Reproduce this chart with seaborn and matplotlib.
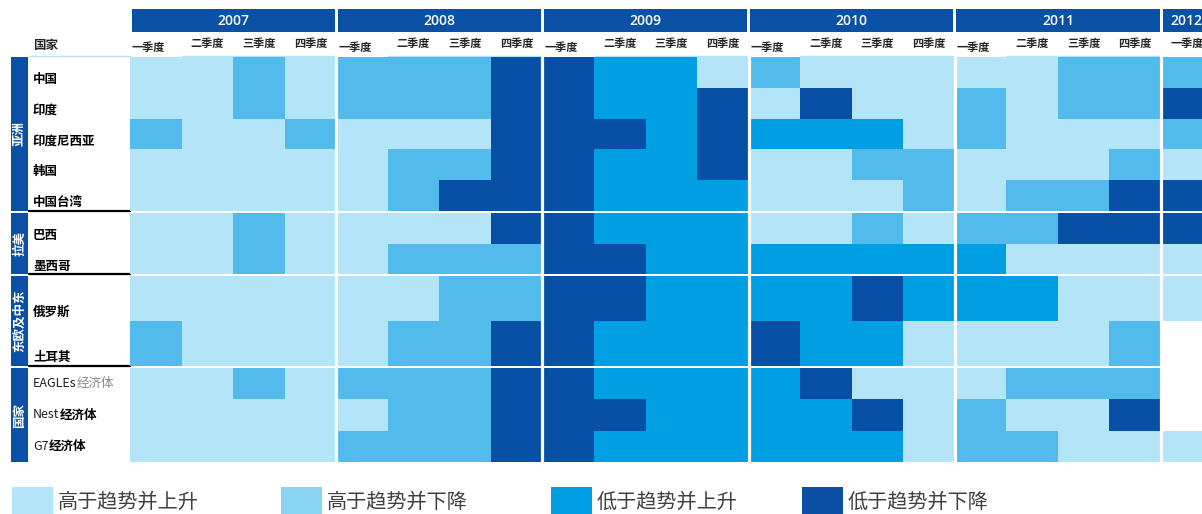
import numpy as np
import pandas as pd
import seaborn as sns
import matplotlib.pyplot as plt
from matplotlib.colors import ListedColormap
from matplotlib.patches import Rectangle

# status codes: 0 高于趋势并上升, 1 高于趋势并下降, 2 低于趋势并上升, 3 低于趋势并下降
years = ["2007", "2008", "2009", "2010", "2011", "2012"]
quarters = ["一季度", "二季度", "三季度", "四季度"]
groups = ["亚洲", "拉美", "东欧及中东", "国家"]
group_sizes = [5, 2, 2, 3]
countries = ["中国", "印度", "印度尼西亚", "韩国", "中国台湾", "巴西", "墨西哥",
             "俄罗斯", "土耳其", "EAGLEs经济体", "Nest经济体", "G7经济体"]
legend_labels = ["高于趋势并上升", "高于趋势并下降", "低于趋势并上升", "低于趋势并下降"]

nan = np.nan
#          2007       2008       2009       2010       2011       2012
china   = [0, 0, 1, 0, 1, 1, 1, 3, 3, 2, 2, 0, 1, 0, 0, 0, 0, 0, 1, 1, 1]
india   = [0, 0, 1, 0, 1, 1, 1, 3, 3, 2, 2, 3, 0, 3, 0, 0, 1, 0, 1, 1, 3]
indones = [1, 0, 0, 1, 0, 0, 0, 3, 3, 3, 2, 3, 2, 2, 2, 0, 1, 0, 0, 0, 1]
korea   = [0, 0, 0, 0, 0, 1, 1, 3, 3, 2, 2, 3, 0, 0, 1, 1, 0, 0, 0, 1, 0]
taiwan  = [0, 0, 0, 0, 0, 1, 3, 3, 3, 2, 2, 2, 0, 0, 0, 1, 0, 1, 1, 3, 3]
brazil  = [0, 0, 1, 0, 0, 0, 0, 3, 3, 2, 2, 2, 0, 0, 1, 0, 1, 1, 3, 3, 3]
mexico  = [0, 0, 1, 0, 0, 1, 1, 1, 3, 3, 2, 2, 2, 2, 2, 2, 2, 0, 0, 0, 0]
russia  = [0, 0, 0, 0, 0, 0, 1, 1, 3, 3, 2, 2, 2, 2, 3, 2, 2, 2, 0, 0, 0]
turkey  = [1, 0, 0, 0, 0, 1, 1, 3, 3, 2, 2, 2, 3, 2, 2, 0, 0, 0, 0, 1, nan]
eagles  = [0, 0, 1, 0, 1, 1, 1, 3, 3, 2, 2, 2, 2, 3, 0, 0, 0, 1, 1, 1, nan]
nest    = [0, 0, 0, 0, 0, 1, 1, 3, 3, 3, 2, 2, 2, 2, 3, 0, 1, 0, 0, 3, nan]
g7      = [0, 0, 0, 0, 1, 1, 1, 3, 3, 2, 2, 2, 2, 2, 2, 0, 1, 1, 0, 0, 0]

status = [china, india, indones, korea, taiwan, brazil, mexico,
          russia, turkey, eagles, nest, g7]
col_labels = [y + q for y in years for q in quarters][:len(china)]
df = pd.DataFrame(status, index=countries, columns=col_labels, dtype=float)

cell_colors = ["#B3E4F8", "#52BBEB", "#009FE3", "#0850A5"]
legend_colors = ["#B3E4F8", "#8AD3F2", "#009FE3", "#0A4FA3"]
dark_blue = "#0A50A5"
cmap = ListedColormap(cell_colors)

sns.set_style("white")
plt.rcParams["font.family"] = ["Noto Sans CJK SC", "DejaVu Sans"]

W, H = 1202, 514
fig = plt.figure(figsize=(W / 100, H / 100), dpi=100)
overlay = fig.add_axes([0, 0, 1, 1])
overlay.set_xlim(0, W)
overlay.set_ylim(H, 0)
overlay.axis("off")


def px_axes(x0, y0, x1, y1):
    return fig.add_axes([x0 / W, 1 - y1 / H, (x1 - x0) / W, (y1 - y0) / H])


x_left = 130
col_w = 51.55
n_cols = df.shape[1]
x_right = x_left + n_cols * col_w


def col_x(c):
    return x_left + c * col_w


group_bounds = [(57, 211), (213, 274), (276, 366), (368, 462)]
label_frac = [0.72, 0.74, 0.8, 0.5]

row = 0
for g, (gname, size) in enumerate(zip(groups, group_sizes)):
    top, bot = group_bounds[g]
    ax = px_axes(x_left, top, x_right, bot)
    sns.heatmap(df.iloc[row:row + size], ax=ax, cmap=cmap, vmin=-0.5, vmax=3.5,
                cbar=False, xticklabels=False, yticklabels=False)
    for k in range(1, len(years)):
        ax.axvline(4 * k, color="white", lw=2.3)
    ax.set_xlabel("")
    ax.set_ylabel("")

    # group bar on the left
    overlay.add_patch(Rectangle((11, top), 17, bot - top, color=dark_blue, lw=0))
    overlay.text(19.5, (top + bot) / 2, gname, rotation=90, color="white",
                 fontsize=9, fontweight="bold", ha="center", va="center")
    if g < len(groups) - 1:
        overlay.plot([29, 130], [bot + 0.3, bot + 0.3], color="black", lw=1.6)

    row_h = (bot - top) / size
    for i in range(size):
        name = countries[row + i]
        yc = top + (i + label_frac[g]) * row_h
        prefix = ""
        for ch in name:
            if ord(ch) < 128:
                prefix += ch
            else:
                break
        if prefix:
            rest = name[len(prefix):]
            t = overlay.text(33, yc, prefix, fontsize=9, color="#222222",
                             ha="left", va="center")
            if prefix == "EAGLEs":
                overlay.annotate(rest, xy=(1, 0.5), xycoords=t, fontsize=9,
                                 color="#888888", ha="left", va="center")
            else:
                overlay.annotate(rest, xy=(1, 0.5), xycoords=t, fontsize=9,
                                 fontweight="heavy", color="black",
                                 ha="left", va="center")
        else:
            overlay.text(33, yc, name, fontsize=9, fontweight="heavy",
                         color="black", ha="left", va="center")
    row += size

# header: year bars and quarter labels
overlay.text(33, 45, "国家", fontsize=9, fontweight="heavy", ha="left", va="center")
overlay.plot([29, 130], [56, 56], color="#B3E4F8", lw=1)
for k, yr in enumerate(years):
    x0 = col_x(4 * k) + 1.5
    x1 = col_x(min(4 * k + 4, n_cols)) - 1.5
    overlay.add_patch(Rectangle((x0, 9), x1 - x0, 23, color=dark_blue, lw=0))
    overlay.text((x0 + x1) / 2, 21, yr, color="white", fontsize=10,
                 fontweight="semibold", family=["Open Sans", "DejaVu Sans"],
                 ha="center", va="center")
    if 4 * k + 1 < n_cols:
        overlay.plot([col_x(4 * k + 1), col_x(4 * k + 4) - 2], [56, 56],
                     color="#B3E4F8", lw=1)

for c in range(n_cols):
    q = quarters[c % 4]
    if c % 4 == 0 and c < n_cols - 1:
        overlay.text(col_x(c) + 2, 47, q, fontsize=8, fontweight="heavy",
                     ha="left", va="center")
    else:
        overlay.text(col_x(c) + col_w / 2, 44, q, fontsize=8, fontweight="heavy",
                     ha="center", va="center")

# legend
legend_x = [12, 281, 551, 802]
for lx, lab, colr in zip(legend_x, legend_labels, legend_colors):
    overlay.add_patch(Rectangle((lx, 487), 41, 30, color=colr, lw=0))
    overlay.text(lx + 46, 502, lab, fontsize=14.5, color="#404040",
                 ha="left", va="center")

fig.savefig("out.png", dpi=100)
